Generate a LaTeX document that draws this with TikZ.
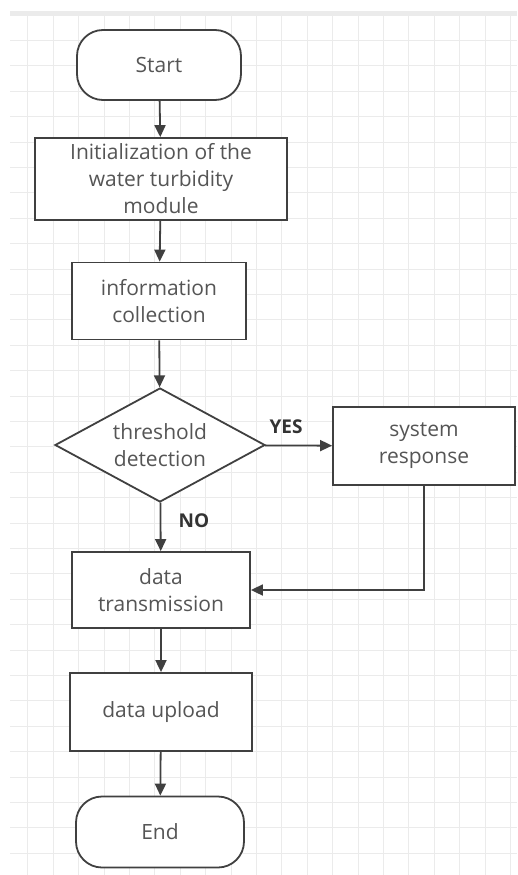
\documentclass[tikz,border=0pt]{standalone}
\usepackage{fontspec}
\setmainfont{Open Sans}
\usetikzlibrary{shapes.geometric,arrows.meta}
\definecolor{linegray}{HTML}{404040}
\definecolor{textgray}{HTML}{555555}
\definecolor{gridgray}{HTML}{EBEBEB}
\tikzset{
  stepbox/.style={rectangle,draw=linegray,line width=1.8pt,fill=white,
                  align=center,text=textgray,font=\fontsize{21}{27}\selectfont,
                  inner sep=2pt},
  termbox/.style={stepbox,rounded corners=26pt},
  decbox/.style={diamond,draw=linegray,line width=1.8pt,fill=white,
                 align=center,text=textgray,font=\fontsize{21}{27}\selectfont,
                 inner sep=0pt,aspect=1.84},
  flow/.style={draw=linegray,line width=1.8pt,-{Triangle[length=12pt,width=11pt]}},
  answer/.style={font=\bfseries\fontsize{19}{22}\selectfont,text=black!80}
}
\begin{document}
\begin{tikzpicture}[x=1pt,y=-1pt]
  \useasboundingbox (0,0) rectangle (517,875);
  \fill[gridgray] (10,11) rectangle (517,16);
  \foreach \gx in {27.8,53.2,...,517} {
    \draw[gridgray,line width=1pt] (\gx,16) -- (\gx,875);
  }
  \foreach \gy in {40.4,65.8,...,875} {
    \draw[gridgray,line width=1pt] (10,\gy) -- (517,\gy);
  }

  \node[termbox,minimum width=164pt,minimum height=70pt] (start) at (159,65) {Start};
  \node[stepbox,minimum width=252pt,minimum height=82pt] (init) at (161,179)
    {Initialization of the\\water turbidity\\module};
  \node[stepbox,minimum width=174pt,minimum height=77pt] (collect) at (159,301)
    {information\\collection};
  \node[decbox,minimum width=210pt,minimum height=114pt] (detect) at (160,445)
    {threshold\\detection};
  \node[stepbox,minimum width=182pt,minimum height=78pt] (respond) at (424,446)
    {system\\response};
  \node[stepbox,minimum width=178pt,minimum height=76pt] (transmit) at (161,590)
    {data\\transmission};
  \node[stepbox,minimum width=182pt,minimum height=78pt] (upload) at (161,712)
    {data upload};
  \node[termbox,minimum width=168pt,minimum height=71pt] (stop) at (160,832) {End};

  \node[answer] (yes) at (286,427) {YES};
  \node[answer] (no) at (194,521) {NO};

  \draw[flow] (start) -- (init);
  \draw[flow] (init) -- (collect);
  \draw[flow] (collect) -- (detect);
  \draw[flow] (detect) -- (respond);
  \draw[flow] (detect) -- (transmit);
  \draw[flow] (respond.south) |- (transmit.east);
  \draw[flow] (transmit) -- (upload);
  \draw[flow] (upload) -- (stop);
\end{tikzpicture}
\end{document}
